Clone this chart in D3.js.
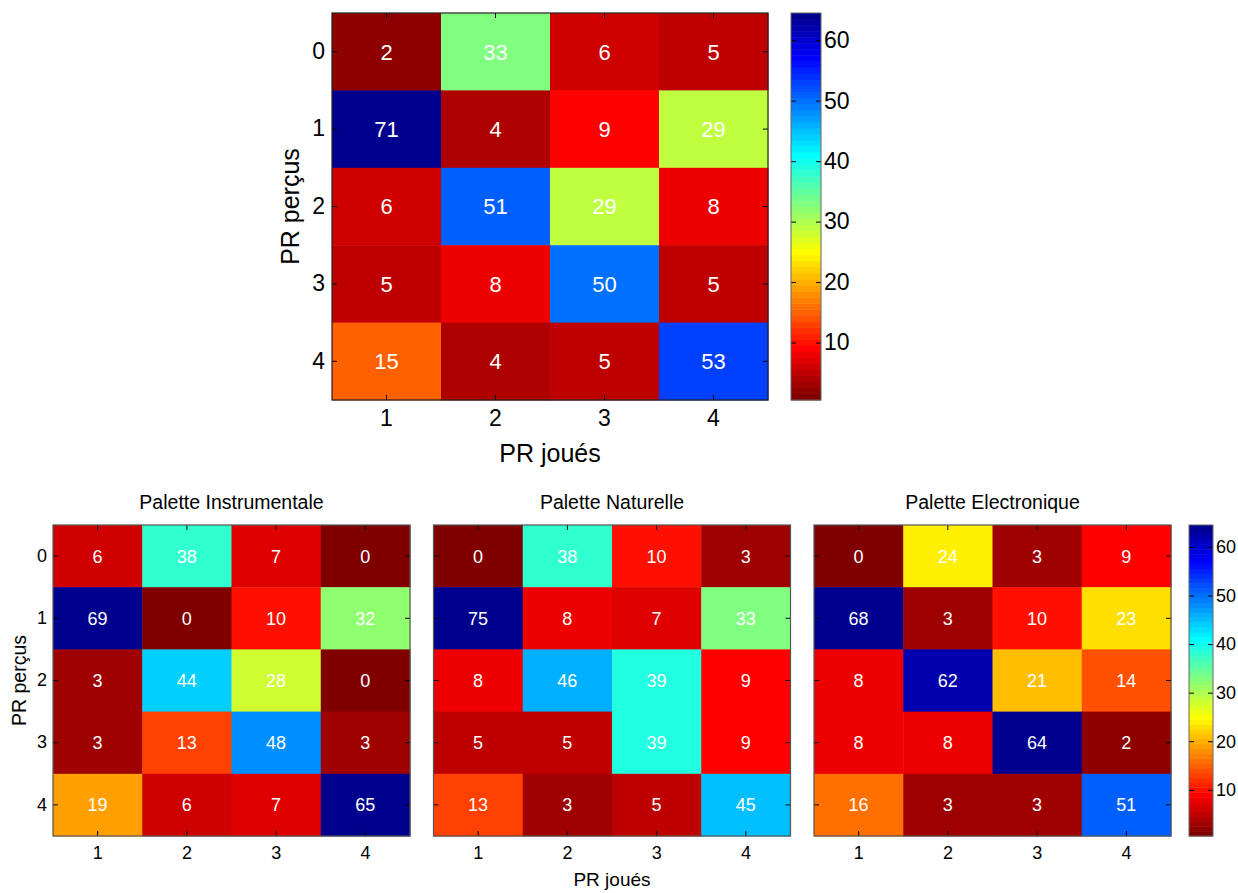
<!DOCTYPE html>
<html>
<head>
<meta charset="utf-8">
<script src="https://cdn.jsdelivr.net/npm/d3@7"></script>
<style>
  html, body { margin: 0; padding: 0; background: #fff; }
  svg { display: block; font-family: "Liberation Sans", Arial, Helvetica, sans-serif; }
</style>
</head>
<body>
<svg id="chart" width="1238" height="893"></svg>
<script>
// ---- Data ----
const joues = [1, 2, 3, 4];          // columns (PR joués)
const percus = [0, 1, 2, 3, 4];      // rows (PR perçus)
const colorbarTicks = [10, 20, 30, 40, 50, 60];

const globalValues = [
  [2, 33, 6, 5],
  [71, 4, 9, 29],
  [6, 51, 29, 8],
  [5, 8, 50, 5],
  [15, 4, 5, 53]
];
const instrumentaleValues = [
  [6, 38, 7, 0],
  [69, 0, 10, 32],
  [3, 44, 28, 0],
  [3, 13, 48, 3],
  [19, 6, 7, 65]
];
const naturelleValues = [
  [0, 38, 10, 3],
  [75, 8, 7, 33],
  [8, 46, 39, 9],
  [5, 5, 39, 9],
  [13, 3, 5, 45]
];
const electroniqueValues = [
  [0, 24, 3, 9],
  [68, 3, 10, 23],
  [8, 62, 21, 14],
  [8, 8, 64, 2],
  [16, 3, 3, 51]
];
const paletteTitles = ["Palette Instrumentale", "Palette Naturelle", "Palette Electronique"];

// ---- MATLAB jet(64), reversed ----
function jet(m) {
  const n = Math.ceil(m / 4);
  const u = [];
  for (let i = 1; i <= n; i++) u.push(i / n);
  for (let i = 1; i < n; i++) u.push(1);
  for (let i = n; i >= 1; i--) u.push(i / n);
  const off = Math.ceil(n / 2) - (m % 4 === 1 ? 1 : 0);
  const J = Array.from({length: m}, () => [0, 0, 0]);
  const L = u.length;
  const g = [], r = [], b = [];
  for (let k = 1; k <= L; k++) { g.push(off + k); r.push(off + k + n); b.push(off + k - n); }
  const gK = g.filter(v => v <= m), rK = r.filter(v => v <= m), bK = b.filter(v => v > 0);
  rK.forEach((idx, i) => J[idx - 1][0] = u[i]);
  gK.forEach((idx, i) => J[idx - 1][1] = u[i]);
  bK.forEach((idx, i) => J[idx - 1][2] = u[L - bK.length + i]);
  return J.map(c => d3.rgb(c[0] * 255, c[1] * 255, c[2] * 255).formatHex());
}
const palette = jet(64).reverse();   // index 0 = dark red (value 1), 63 = dark blue (value 64)
const color = d3.scaleQuantize().domain([0.5, 64.5]).range(palette);

const svg = d3.select("#chart");
const font = '"Liberation Sans", Arial, Helvetica, sans-serif';

function heatmap(g, values, box, opt) {
  const x = d3.scaleBand().domain(joues).range([box.x0, box.x1]);
  const y = d3.scaleBand().domain(percus).range([box.y0, box.y1]);
  const cells = [];
  percus.forEach((p, i) => joues.forEach((j, k) => cells.push({p, j, v: values[i][k]})));
  g.selectAll("rect.cell").data(cells).join("rect")
    .attr("class", "cell")
    .attr("x", d => x(d.j)).attr("y", d => y(d.p))
    .attr("width", x.bandwidth() + 0.5).attr("height", y.bandwidth() + 0.5)
    .attr("fill", d => color(d.v));
  g.selectAll("text.val").data(cells).join("text")
    .attr("class", "val")
    .attr("x", d => x(d.j) + x.bandwidth() / 2)
    .attr("y", d => y(d.p) + y.bandwidth() / 2)
    .attr("dy", "0.36em")
    .attr("text-anchor", "middle")
    .attr("fill", "#fff")
    .attr("font-size", opt.valSize)
    .text(d => d.v);

  const ts = 5;
  const axB = g.append("g").attr("transform", `translate(0,${box.y1})`)
    .call(d3.axisBottom(x).tickSize(-ts).tickPadding(opt.xPad));
  const axT = g.append("g").attr("transform", `translate(0,${box.y0})`)
    .call(d3.axisTop(x).tickSize(-ts).tickFormat(""));
  const axL = g.append("g").attr("transform", `translate(${box.x0},0)`)
    .call(d3.axisLeft(y).tickSize(-ts).tickPadding(opt.yPad));
  if (!opt.yLabels) axL.selectAll("text").remove();
  const axR = g.append("g").attr("transform", `translate(${box.x1},0)`)
    .call(d3.axisRight(y).tickSize(-ts).tickFormat(""));
  [axB, axT, axL, axR].forEach(a => {
    a.select(".domain").remove();
    a.selectAll("line").attr("stroke", "#000");
    a.selectAll("text").attr("font-size", opt.tickSize).attr("font-family", font).attr("fill", "#000");
  });
  g.append("rect").attr("x", box.x0).attr("y", box.y0)
    .attr("width", box.x1 - box.x0).attr("height", box.y1 - box.y0)
    .attr("fill", "none").attr("stroke", opt.border).attr("stroke-width", 1.2);
}

function colorbar(g, box, opt) {
  const y = d3.scaleLinear().domain([0.5, 64.5]).range([box.y1, box.y0]);
  const idx = d3.range(1, 65);
  g.selectAll("rect.cb").data(idx).join("rect")
    .attr("class", "cb")
    .attr("x", box.x0).attr("width", box.x1 - box.x0)
    .attr("y", d => y(d + 0.5)).attr("height", d => y(d - 0.5) - y(d + 0.5) + 0.5)
    .attr("fill", d => color(d));
  const ts = 5;
  const axR = g.append("g").attr("transform", `translate(${box.x1},0)`)
    .call(d3.axisRight(y).tickValues(colorbarTicks).tickSize(-ts).tickPadding(3));
  const axL = g.append("g").attr("transform", `translate(${box.x0},0)`)
    .call(d3.axisLeft(y).tickValues(colorbarTicks).tickSize(-ts).tickFormat(""));
  [axR, axL].forEach(a => {
    a.select(".domain").remove();
    a.selectAll("line").attr("stroke", "#000");
    a.selectAll("text").attr("font-size", opt.tickSize).attr("font-family", font).attr("fill", "#000");
  });
  g.append("rect").attr("x", box.x0).attr("y", box.y0)
    .attr("width", box.x1 - box.x0).attr("height", box.y1 - box.y0)
    .attr("fill", "none").attr("stroke", "#666").attr("stroke-width", 1);
}

// ---- Top chart ----
const topBox = {x0: 332, x1: 768, y0: 13, y1: 400};
heatmap(svg.append("g"), globalValues, topBox, {valSize: 22, tickSize: 23, xPad: 10, yPad: 7, border: "#222", yLabels: true});
colorbar(svg.append("g"), {x0: 791, x1: 821, y0: 13, y1: 400}, {tickSize: 23});
svg.append("text")
  .attr("x", (topBox.x0 + topBox.x1) / 2).attr("y", 453).attr("dy", "0.36em")
  .attr("text-anchor", "middle").attr("font-size", 25).text("PR joués");
svg.append("text")
  .attr("transform", `translate(290,${(topBox.y0 + topBox.y1) / 2}) rotate(-90)`)
  .attr("dy", "0.36em")
  .attr("text-anchor", "middle").attr("font-size", 25).text("PR perçus");

// ---- Bottom charts ----
const bottomX0 = [53, 433.5, 814];
const bw = 357;
const by0 = 525, by1 = 836;
const bottomData = [instrumentaleValues, naturelleValues, electroniqueValues];
bottomData.forEach((vals, i) => {
  const box = {x0: bottomX0[i], x1: bottomX0[i] + bw, y0: by0, y1: by1};
  heatmap(svg.append("g"), vals, box, {valSize: 18, tickSize: 18, xPad: 10, yPad: 6, border: "#555", yLabels: i === 0});
  svg.append("text")
    .attr("x", (box.x0 + box.x1) / 2).attr("y", 502).attr("dy", "0.36em")
    .attr("text-anchor", "middle").attr("font-size", 19.5).text(paletteTitles[i]);
});
colorbar(svg.append("g"), {x0: 1189, x1: 1213, y0: by0, y1: by1}, {tickSize: 18});
svg.append("text")
  .attr("x", bottomX0[1] + bw / 2).attr("y", 879).attr("dy", "0.36em")
  .attr("text-anchor", "middle").attr("font-size", 19).text("PR joués");
svg.append("text")
  .attr("transform", `translate(19,${(by0 + by1) / 2}) rotate(-90)`)
  .attr("dy", "0.36em")
  .attr("text-anchor", "middle").attr("font-size", 19.5).text("PR perçus");
</script>
</body>
</html>
